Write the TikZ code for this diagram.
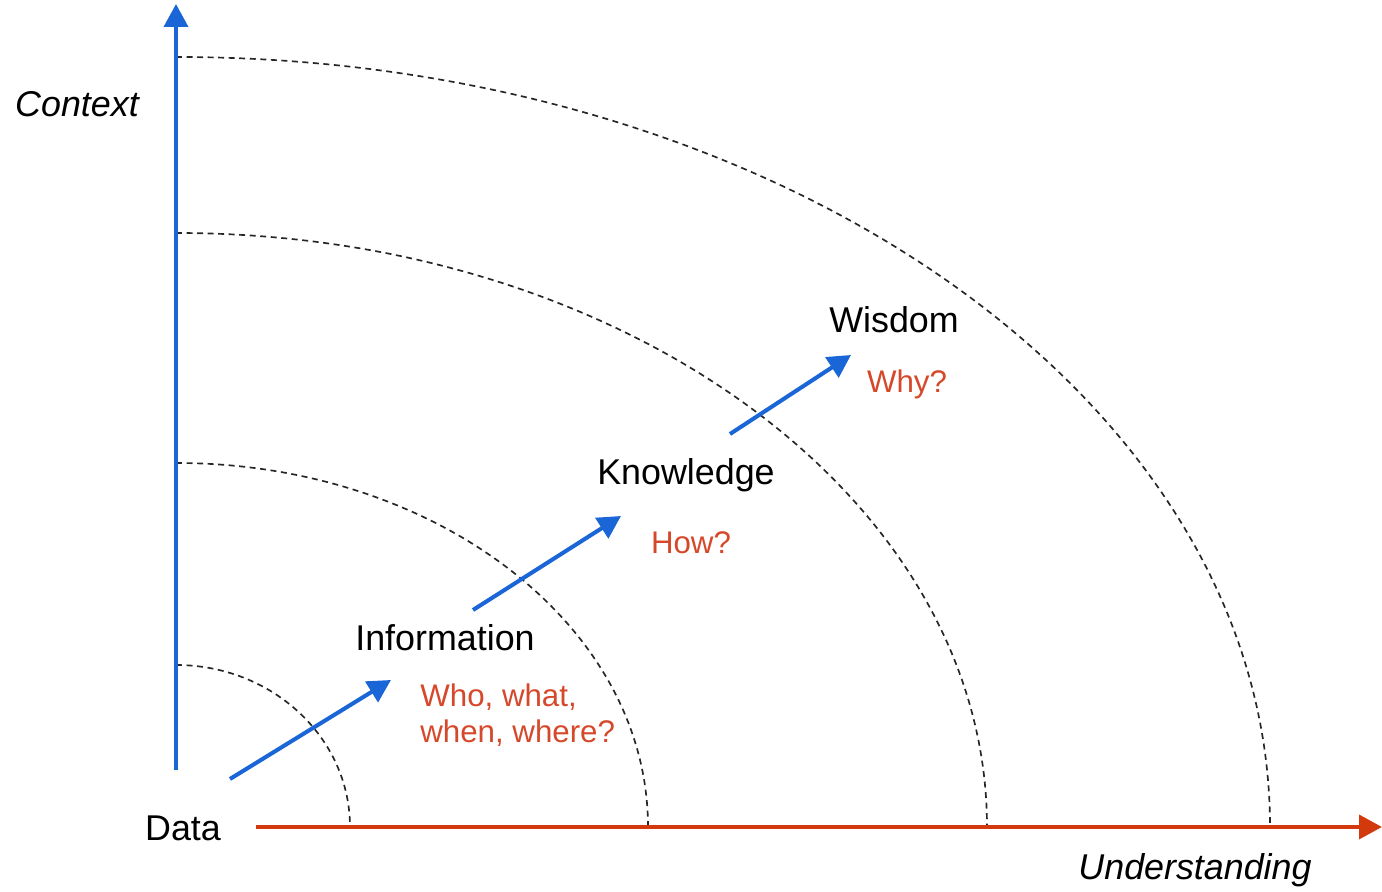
\documentclass[tikz,border=0pt]{standalone}
\usepackage{fontspec}
\setmainfont{Liberation Sans}
\usetikzlibrary{arrows.meta}
\definecolor{DIKW1}{HTML}{1A66D6}
\definecolor{DIKW2}{HTML}{D23A0E}
\definecolor{DIKW3}{HTML}{D6482A}
\tikzstyle{level} = [text=black, font=\fontsize{20.4}{24}\selectfont, inner sep=0pt]
\tikzstyle{question} = [text=DIKW3, font=\fontsize{17.8}{20.4}\selectfont, inner sep=0pt, align=left]
\tikzstyle{axislabel} = [text=black, font=\fontsize{20.4}{24}\selectfont\itshape, inner sep=0pt]
\tikzstyle{ring} = [black!85, line width=0.95pt, dash pattern=on 3.4pt off 2.6pt]
\tikzstyle{blueaxis} = [DIKW1, line width=2.3pt, -{Triangle[length=13pt, width=13.5pt]}]
\tikzstyle{redaxis} = [DIKW2, line width=2.3pt, -{Triangle[length=13pt, width=13.5pt]}]
\tikzstyle{arrow} = [DIKW1, line width=2.3pt, -{Triangle[length=13pt, width=13.5pt]}]

\begin{document}
\begin{tikzpicture}[x=0.02cm, y=0.02cm]

\useasboundingbox (-176,-65) rectangle (1206,827);

\draw [ring] (0,162) arc[start angle=90, end angle=0, x radius=174, y radius=162];
\draw [ring] (0,364) arc[start angle=90, end angle=0, x radius=472, y radius=364];
\draw [ring] (0,594) arc[start angle=90, end angle=0, x radius=811, y radius=594];
\draw [ring] (0,770) arc[start angle=90, end angle=0, x radius=1094, y radius=770];

\coordinate (ctxbot) at (0,57);
\coordinate (ctxtop) at (0,823);
\coordinate (undleft) at (80,0);
\coordinate (undright) at (1206,0);

\draw [blueaxis] (ctxbot) -- (ctxtop);
\draw [redaxis] (undleft) -- (undright);

\node (context) [axislabel] at (-99,723) {Context};
\node (understanding) [axislabel] at (1019,-43) {Understanding};

\node (data) [level] at (7,-1) {Data};
\node (info) [level] at (269,189) {Information};
\node (know) [level] at (510,352) {Knowledge};
\node (wis) [level] at (718,507) {Wisdom};

\node (q1) [question, anchor=west] at (244,112) {Who, what,\\when, where?};
\node (q2) [question] at (515,284) {How?};
\node (q3) [question] at (731,443) {Why?};

\coordinate (a1s) at (54,48);
\coordinate (a1e) at (215,147);
\coordinate (a2s) at (297,217);
\coordinate (a2e) at (445,311);
\coordinate (a3s) at (554,393);
\coordinate (a3e) at (675,472);

\draw [arrow] (a1s) -- (a1e);
\draw [arrow] (a2s) -- (a2e);
\draw [arrow] (a3s) -- (a3e);

\end{tikzpicture}
\end{document}
